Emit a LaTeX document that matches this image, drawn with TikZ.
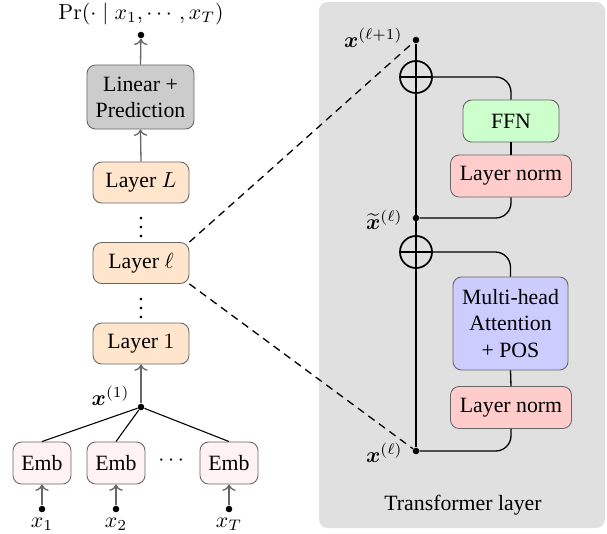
\documentclass[tikz,border=0pt]{standalone}
\usepackage{amsmath,bm}
\usepackage[no-math]{fontspec}
\setmainfont{Liberation Serif}
\usetikzlibrary{arrows.meta}
\begin{document}
\begin{tikzpicture}[x=0.4587pt,y=-0.4587pt,
  every node/.style={font=\fontsize{10}{12}\selectfont},
  box/.style={draw=black!60, rounded corners=4pt, align=center, inner sep=1pt},
  layerbox/.style={box, fill=orange!20, minimum width=44pt, minimum height=18.8pt},
  embbox/.style={box, fill=red!5, minimum width=26.6pt, minimum height=19.3pt},
  lnbox/.style={box, fill=red!20, minimum width=55.5pt, minimum height=19.3pt},
  dotn/.style={circle, fill=black, inner sep=0pt, minimum size=3pt},
  lab/.style={inner sep=0.5pt},
  garrow/.style={draw=black!60, semithick, ->},
  tline/.style={draw=black, line width=0.5pt},
  rline/.style={draw=black, semithick, rounded corners=7pt},
  oplus/.style={circle, draw=black, thick, inner sep=0pt, minimum size=14.7pt},
  dline/.style={draw=black, semithick, dash pattern=on 3.5pt off 2.5pt}
]
\useasboundingbox (0,0) rectangle (607,534);
% right panel
\fill[black!12, rounded corners=4pt] (319,2) rectangle (605,528);
\node (tlabel) at (463,505) {Transformer layer};

% left column
\node[lab] (title) at (141,14) {$\Pr(\cdot\mid x_1,\cdots,x_T)$};
\node[dotn] (out) at (141,35) {};
\node[box, fill=black!20, minimum width=49.1pt, minimum height=29.4pt] (lin) at (140.5,97) {Linear +\\Prediction};
\node[layerbox] (lL) at (141,182.5) {Layer $L$};
\node[inner sep=0pt] (d1) at (141,221) {$\vdots$};
\node[layerbox] (ll) at (141,263) {Layer $\ell$};
\node[inner sep=0pt] (d2) at (141,302) {$\vdots$};
\node[layerbox] (l1) at (141,343.5) {Layer $1$};
\node[dotn] (j) at (141,407) {};
\node[lab, anchor=east] (x1lab) at (131,396) {$\bm{x}^{(1)}$};
\node[embbox] (e1) at (42,463) {Emb};
\node[embbox] (e2) at (116,463) {Emb};
\node[lab] (ed) at (173,461) {$\cdots$};
\node[embbox] (e3) at (229,463) {Emb};
\node[dotn] (i1) at (42,509) {};
\node[dotn] (i2) at (116,509) {};
\node[dotn] (i3) at (229,509) {};
\node[lab] (il1) at (42,524) {$x_1$};
\node[lab] (il2) at (116,524) {$x_2$};
\node[lab] (il3) at (229,524) {$x_T$};

\draw[garrow] (lin.north) -- (out);
\draw[garrow] (lL.north) -- (lin.south);
\draw[garrow] (j) -- (l1.south);
\draw[tline] (j) -- (e1.north);
\draw[tline] (j) -- (e2.north);
\draw[tline] (j) -- (e3.north);
\draw[garrow] (i1) -- (e1.south);
\draw[garrow] (i2) -- (e2.south);
\draw[garrow] (i3) -- (e3.south);

% transformer layer
\node[dotn] (xp) at (416,40) {};
\node[lab, anchor=east] (xplab) at (404,38) {$\bm{x}^{(\ell+1)}$};
\node[oplus] (op1) at (416,77) {};
\node[box, fill=green!20, minimum width=44pt, minimum height=19.3pt] (ffn) at (511,121) {FFN};
\node[lnbox] (ln1) at (511,176) {Layer norm};
\node[dotn] (xt) at (416,218) {};
\node[lab, anchor=east] (xtlab) at (404,220) {$\widetilde{\bm{x}}^{(\ell)}$};
\node[oplus] (op2) at (416,252) {};
\node[box, fill=blue!20, minimum width=52.8pt, minimum height=42.7pt] (mha) at (510.5,323.5) {Multi-head\\Attention\\+ POS};
\node[lnbox] (ln2) at (511,407.5) {Layer norm};
\node[dotn] (xl) at (416,451) {};
\node[lab, anchor=east] (xllab) at (404,453) {$\bm{x}^{(\ell)}$};

\draw[rline] (xl) -- (xp);
\draw[thick] (op1.west) -- (op1.east) (op1.north) -- (op1.south);
\draw[thick] (op2.west) -- (op2.east) (op2.north) -- (op2.south);
\draw[rline] (op1.east) -| (ffn.north);
\draw[rline] (ffn.south) -- (ln1.north);
\draw[rline] (ln1.south) |- (xt);
\draw[rline] (op2.east) -| (mha.north);
\draw[rline] (mha.south) -- (ln2.north);
\draw[rline] (ln2.south) |- (xl);

\draw[dline] (ll.north east) -- (xp);
\draw[dline] (ll.south east) -- (xl);
\end{tikzpicture}
\end{document}
